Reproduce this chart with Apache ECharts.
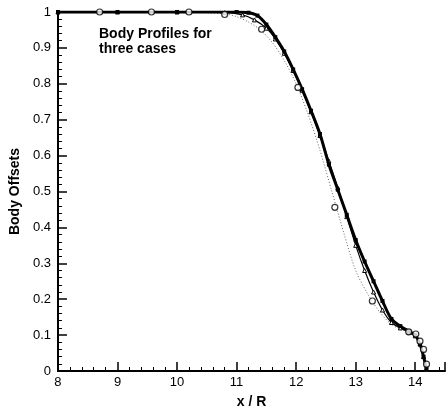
<!DOCTYPE html>
<html><head><meta charset="utf-8">
<script src="https://cdn.jsdelivr.net/npm/echarts@6/dist/echarts.min.js"></script>
<style>html,body{margin:0;padding:0;background:#fff}#c{width:448px;height:414px}</style>
</head><body><div id="c"></div>
<script>
// Case 1: thick solid line (filled squares)
const thickX = [8, 9, 10, 11, 11.2, 11.35, 11.5, 11.65, 11.8, 11.95, 12.1, 12.25, 12.4, 12.55, 12.7, 12.85, 13.0, 13.15, 13.3, 13.45, 13.6, 13.75, 13.9, 14.0, 14.08, 14.14, 14.19];
const thickY = [1, 1, 1, 1, 0.998, 0.99, 0.965, 0.93, 0.89, 0.84, 0.785, 0.725, 0.66, 0.575, 0.505, 0.435, 0.365, 0.305, 0.25, 0.195, 0.145, 0.125, 0.11, 0.10, 0.075, 0.04, 0.005];
// Case 2: thin solid line (open triangles)
const thinX = [8, 9, 10, 10.8, 11.1, 11.3, 11.5, 11.65, 11.8, 11.95, 12.1, 12.25, 12.4, 12.55, 12.7, 12.85, 13.0, 13.15, 13.3, 13.45, 13.6, 13.75, 13.9, 14.0, 14.08, 14.14, 14.18];
const thinY = [1, 1, 1, 0.998, 0.992, 0.978, 0.955, 0.925, 0.885, 0.837, 0.782, 0.722, 0.656, 0.585, 0.51, 0.43, 0.35, 0.28, 0.22, 0.17, 0.135, 0.12, 0.108, 0.098, 0.075, 0.04, 0.005];
// Case 3: dotted line
const dotX = [8, 10, 10.8, 11.0, 11.2, 11.4, 11.6, 11.8, 12.0, 12.2, 12.4, 12.6, 12.8, 13.0, 13.2, 13.4, 13.6, 13.8, 14.0, 14.1, 14.18];
const dotY = [1, 1, 0.995, 0.987, 0.972, 0.95, 0.915, 0.865, 0.8, 0.715, 0.615, 0.5, 0.385, 0.28, 0.215, 0.165, 0.13, 0.113, 0.1, 0.07, 0.01];
// Open circles
const circX = [8.7, 9.57, 10.2, 10.8, 11.42, 12.03, 12.65, 13.28, 13.89, 14.01, 14.08, 14.14, 14.19];
const circY = [1, 1, 1, 0.993, 0.952, 0.79, 0.456, 0.195, 0.109, 0.103, 0.083, 0.06, 0.019];

const titleLines = ['Body Profiles for', 'three cases'];
const xName = 'x / R';
const yName = 'Body Offsets';

const zip = (a, b) => a.map((v, i) => [v, b[i]]);
const F = '"Liberation Sans", Arial, sans-serif';

const chart = echarts.init(document.getElementById('c'), null, {renderer: 'canvas'});
chart.setOption({
  animation: false,
  backgroundColor: '#fff',
  grid: {left: 54, top: 12, width: 396.5, height: 365, containLabel: false},
  xAxis: {
    type: 'value', min: 8, max: 14.5, interval: 1,
    axisLine: {lineStyle: {color: '#000', width: 2}},
    axisTick: {inside: true, length: 9, lineStyle: {color: '#000', width: 1.5}},
    minorTick: {show: true, splitNumber: 5, length: 4, lineStyle: {color: '#000', width: 1}},
    splitLine: {show: false},
    axisLabel: {color: '#000', fontFamily: F, fontSize: 13, margin: 5,
      formatter: v => (Math.abs(v - Math.round(v)) < 1e-6 ? String(Math.round(v)) : '')},
    name: xName, nameLocation: 'middle', nameGap: 24,
    nameTextStyle: {color: '#000', fontFamily: F, fontSize: 14, fontWeight: 'bold'}
  },
  yAxis: {
    type: 'value', min: 0, max: 1, interval: 0.1,
    axisLine: {lineStyle: {color: '#000', width: 2}},
    axisTick: {inside: true, length: 9, lineStyle: {color: '#000', width: 1.5}},
    minorTick: {show: true, splitNumber: 5, length: 4, lineStyle: {color: '#000', width: 1}},
    splitLine: {show: false},
    axisLabel: {color: '#000', fontFamily: F, fontSize: 13, margin: 7,
      formatter: v => (v === 0 ? '0' : v === 1 ? '1' : v.toFixed(1))},
    name: yName, nameLocation: 'middle', nameGap: 28, nameRotate: 90,
    nameTextStyle: {color: '#000', fontFamily: F, fontSize: 14, fontWeight: 'bold'}
  },
  graphic: [{
    type: 'text', left: 99, top: 27,
    style: {text: titleLines.join('\n'), font: 'bold 14px ' + F, fill: '#000', lineHeight: 15}
  }],
  series: [
    {type: 'line', data: zip(dotX, dotY), smooth: 0.3, symbol: 'none',
      lineStyle: {color: '#666', width: 1, type: [1, 2]}, z: 1},
    {type: 'line', data: zip(thinX, thinY), smooth: 0.3, symbol: 'triangle', symbolSize: 4,
      itemStyle: {color: '#fff', borderColor: '#000', borderWidth: 1},
      lineStyle: {color: '#000', width: 1.2}, z: 2},
    {type: 'line', data: zip(thickX, thickY), smooth: 0.3, symbol: 'rect', symbolSize: 4,
      itemStyle: {color: '#000'},
      lineStyle: {color: '#000', width: 3}, z: 3},
    {type: 'scatter', data: zip(circX, circY), symbol: 'circle', symbolSize: 6,
      itemStyle: {color: '#fff', borderColor: '#000', borderWidth: 1.2}, z: 4}
  ]
});
</script></body></html>
